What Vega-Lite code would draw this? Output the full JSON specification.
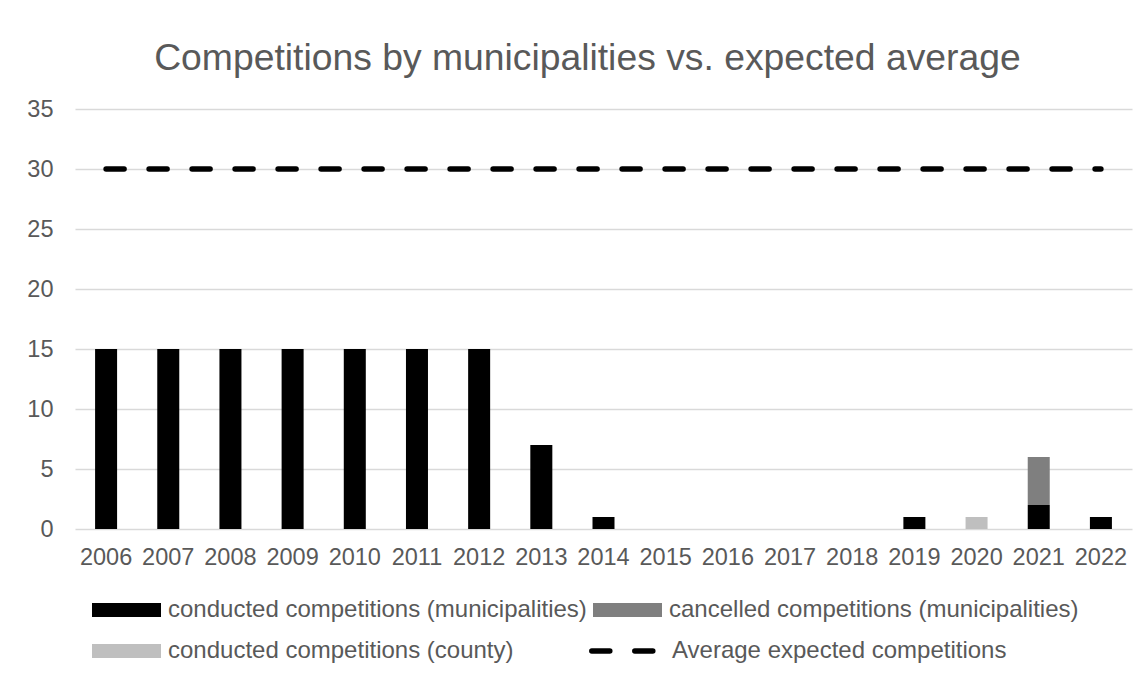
{
  "$schema": "https://vega.github.io/schema/vega-lite/v6.json",
  "width": 1057,
  "height": 420,
  "autosize": {"type": "none"},
  "padding": {"left": 75, "top": 109, "right": 16, "bottom": 148},
  "background": "white",
  "title": {
    "text": "Competitions by municipalities vs. expected average",
    "fontSize": 37.3,
    "font": "Liberation Sans",
    "fontWeight": "normal",
    "color": "#595959",
    "anchor": "middle",
    "frame": "bounds",
    "offset": 19,
    "dx": 8
  },
  "config": {
    "view": {"stroke": null},
    "font": "Liberation Sans",
    "axis": {
      "labelFont": "Liberation Sans",
      "labelFontSize": 23.5,
      "labelColor": "#595959",
      "gridColor": "#d9d9d9",
      "gridWidth": 1.5,
      "ticks": false,
      "title": null,
      "domain": false
    },
    "legend": {"padding": 0}
  },
  "datasets": {
    "bars": [
      {"year": 2006, "series": "conducted competitions (municipalities)", "value": 15},
      {"year": 2007, "series": "conducted competitions (municipalities)", "value": 15},
      {"year": 2008, "series": "conducted competitions (municipalities)", "value": 15},
      {"year": 2009, "series": "conducted competitions (municipalities)", "value": 15},
      {"year": 2010, "series": "conducted competitions (municipalities)", "value": 15},
      {"year": 2011, "series": "conducted competitions (municipalities)", "value": 15},
      {"year": 2012, "series": "conducted competitions (municipalities)", "value": 15},
      {"year": 2013, "series": "conducted competitions (municipalities)", "value": 7},
      {"year": 2014, "series": "conducted competitions (municipalities)", "value": 1},
      {"year": 2015, "series": "conducted competitions (municipalities)", "value": 0},
      {"year": 2016, "series": "conducted competitions (municipalities)", "value": 0},
      {"year": 2017, "series": "conducted competitions (municipalities)", "value": 0},
      {"year": 2018, "series": "conducted competitions (municipalities)", "value": 0},
      {"year": 2019, "series": "conducted competitions (municipalities)", "value": 1},
      {"year": 2020, "series": "conducted competitions (county)", "value": 1},
      {"year": 2021, "series": "conducted competitions (municipalities)", "value": 2},
      {"year": 2021, "series": "cancelled competitions (municipalities)", "value": 4},
      {"year": 2022, "series": "conducted competitions (municipalities)", "value": 1}
    ],
    "avg": [
      {"year": 2006, "series": "Average expected competitions", "avg": 30},
      {"year": 2007, "series": "Average expected competitions", "avg": 30},
      {"year": 2008, "series": "Average expected competitions", "avg": 30},
      {"year": 2009, "series": "Average expected competitions", "avg": 30},
      {"year": 2010, "series": "Average expected competitions", "avg": 30},
      {"year": 2011, "series": "Average expected competitions", "avg": 30},
      {"year": 2012, "series": "Average expected competitions", "avg": 30},
      {"year": 2013, "series": "Average expected competitions", "avg": 30},
      {"year": 2014, "series": "Average expected competitions", "avg": 30},
      {"year": 2015, "series": "Average expected competitions", "avg": 30},
      {"year": 2016, "series": "Average expected competitions", "avg": 30},
      {"year": 2017, "series": "Average expected competitions", "avg": 30},
      {"year": 2018, "series": "Average expected competitions", "avg": 30},
      {"year": 2019, "series": "Average expected competitions", "avg": 30},
      {"year": 2020, "series": "Average expected competitions", "avg": 30},
      {"year": 2021, "series": "Average expected competitions", "avg": 30},
      {"year": 2022, "series": "Average expected competitions", "avg": 30}
    ]
  },
  "layer": [
    {
      "data": {"name": "bars"},
      "mark": {"type": "bar"},
      "encoding": {
        "x": {
          "field": "year",
          "type": "ordinal",
          "scale": {
            "domain": [2006, 2007, 2008, 2009, 2010, 2011, 2012, 2013, 2014, 2015, 2016, 2017, 2018, 2019, 2020, 2021, 2022],
            "paddingInner": 0.646,
            "paddingOuter": 0.323
          },
          "axis": {"labelAngle": 0, "labelPadding": 16, "grid": false}
        },
        "y": {
          "field": "value",
          "type": "quantitative",
          "scale": {"domain": [0, 35]},
          "axis": {"values": [0, 5, 10, 15, 20, 25, 30, 35], "labelPadding": 22, "grid": true}
        },
        "color": {
          "field": "series",
          "type": "nominal",
          "sort": [
            "conducted competitions (municipalities)",
            "cancelled competitions (municipalities)",
            "conducted competitions (county)"
          ],
          "scale": {
            "domain": [
              "conducted competitions (municipalities)",
              "conducted competitions (county)",
              "cancelled competitions (municipalities)"
            ],
            "range": ["#000000", "#bfbfbf", "#7f7f7f"]
          },
          "legend": {
            "orient": "none",
            "legendX": 12,
            "legendY": 489,
            "columns": 2,
            "title": null,
            "symbolType": "M-1,-1H8.857V1H-1Z",
            "symbolSize": 196,
            "symbolStrokeWidth": 0,
            "labelOffset": 57,
            "labelFont": "Liberation Sans",
            "labelFontSize": 24,
            "labelColor": "#595959",
            "labelLimit": 700,
            "columnPadding": 1,
            "rowPadding": 17
          }
        }
      }
    },
    {
      "data": {"name": "avg"},
      "mark": {"type": "line", "strokeDash": [18, 25], "strokeCap": "round", "strokeWidth": 5.5},
      "encoding": {
        "x": {"field": "year", "type": "ordinal"},
        "y": {"field": "avg", "type": "quantitative"},
        "stroke": {
          "field": "series",
          "type": "nominal",
          "scale": {"domain": ["Average expected competitions"], "range": ["#000000"]},
          "legend": {
            "orient": "none",
            "legendX": 509,
            "legendY": 530,
            "title": null,
            "symbolType": "M-0.6,0H8.9",
            "symbolSize": 196,
            "symbolStrokeWidth": 5.5,
            "symbolDash": [18, 25],
            "symbolFillColor": "transparent",
            "labelOffset": 64,
            "labelFont": "Liberation Sans",
            "labelFontSize": 24,
            "labelColor": "#595959",
            "labelLimit": 700,
            "encode": {"symbols": {"update": {"strokeCap": {"value": "round"}}}}
          }
        }
      }
    }
  ]
}
